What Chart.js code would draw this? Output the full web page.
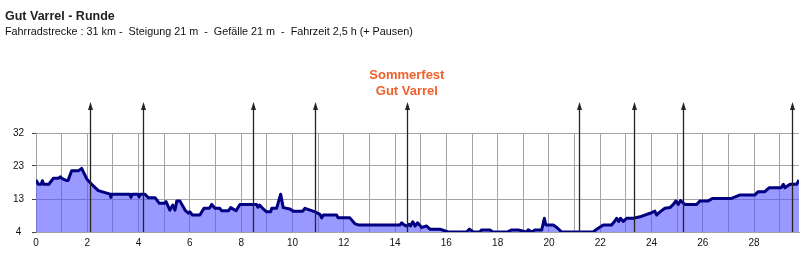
<!DOCTYPE html>
<html>
<head>
<meta charset="utf-8">
<script src="https://cdn.jsdelivr.net/npm/chart.js@4"></script>
<style>
  html, body { margin: 0; padding: 0; background: #fff; }
  #profil { display: block; }
</style>
</head>
<body>
<canvas id="profil" width="809" height="262"></canvas>
<script>
// Streckenprofil: Kilometer und Höhe (m)
const km = [0, 0.09, 0.2, 0.25, 0.3, 0.5, 0.68, 0.87, 0.96, 1.0, 1.17, 1.25, 1.39, 1.65, 1.78, 1.98, 2.17, 2.43, 2.89, 2.92, 2.95, 3.66, 3.7, 3.75, 3.98, 4.02, 4.07, 4.25, 4.38, 4.64, 4.81, 5.0, 5.07, 5.22, 5.33, 5.42, 5.49, 5.61, 5.81, 5.94, 6.0, 6.1, 6.39, 6.55, 6.76, 6.85, 6.98, 7.17, 7.24, 7.5, 7.59, 7.8, 7.95, 8.6, 8.65, 8.72, 8.85, 8.99, 9.15, 9.19, 9.38, 9.54, 9.64, 9.9, 10.03, 10.4, 10.49, 10.88, 11.07, 11.14, 11.2, 11.72, 11.78, 12.24, 12.44, 12.57, 14.19, 14.26, 14.35, 14.45, 14.55, 14.6, 14.69, 14.78, 14.88, 15.04, 15.23, 15.36, 15.75, 16.07, 16.79, 16.9, 17.05, 17.31, 17.37, 17.7, 17.8, 18.37, 18.55, 18.8, 19.13, 19.19, 19.33, 19.45, 19.72, 19.82, 19.88, 20.17, 20.32, 20.5, 21.73, 21.86, 22.12, 22.44, 22.57, 22.64, 22.72, 22.79, 22.9, 23.03, 23.29, 23.55, 23.94, 24.13, 24.2, 24.33, 24.52, 24.72, 24.85, 24.95, 25.04, 25.13, 25.3, 25.76, 25.89, 26.21, 26.37, 27.12, 27.45, 28.03, 28.16, 28.42, 28.58, 29.05, 29.14, 29.2, 29.4, 29.66, 29.75];
const hoehe = [18.7, 17.5, 17.5, 18.5, 17.5, 17.5, 19.2, 19.2, 19.6, 19.2, 18.6, 18.6, 21.3, 21.3, 22.0, 19.0, 17.5, 15.7, 14.7, 13.8, 14.7, 14.7, 13.8, 14.7, 14.7, 13.9, 14.7, 14.7, 13.7, 13.7, 12.1, 12.1, 12.6, 10.2, 11.6, 10.2, 12.8, 12.8, 10.2, 9.3, 9.7, 8.8, 8.8, 10.7, 10.7, 11.8, 10.7, 10.7, 10.0, 10.0, 10.9, 10.0, 11.8, 11.8, 11.0, 11.6, 10.6, 9.7, 9.7, 10.7, 10.7, 14.7, 10.9, 10.5, 9.9, 9.9, 10.7, 9.7, 9.0, 8.0, 8.8, 8.8, 8.0, 8.0, 6.3, 6.0, 6.0, 6.6, 6.0, 5.7, 6.2, 5.7, 6.9, 5.7, 6.6, 5.3, 5.7, 4.8, 4.8, 4.0, 4.0, 4.8, 4.0, 4.0, 4.6, 4.6, 4.0, 4.0, 4.6, 4.6, 4.0, 4.6, 4.0, 4.6, 4.6, 7.9, 6.0, 6.0, 5.2, 4.0, 4.0, 4.8, 6.0, 6.0, 7.1, 7.9, 7.0, 7.9, 7.0, 7.9, 7.9, 8.3, 9.3, 9.9, 8.8, 9.7, 10.7, 10.9, 11.8, 12.8, 11.8, 12.9, 11.8, 11.8, 12.8, 12.8, 13.5, 13.5, 14.5, 14.5, 15.4, 15.4, 16.5, 16.5, 17.5, 16.5, 17.5, 17.5, 18.7];

// Achsen
const yTicks = [4, 13.33, 22.67, 32];
const yTickLabels = ['4', '13', '23', '32'];
const kmMax = 29.75;

// Markierungen (Pfeile) und Beschriftung
const pfeilKm = [2.1, 4.18, 8.47, 10.89, 14.46, 21.18, 23.33, 25.24, 29.49];
const pfeilHoehe = 40.8;
const festKm = 14.46;
const festText = ['Sommerfest', 'Gut Varrel'];

const titel = 'Gut Varrel - Runde';
const untertitel = 'Fahrradstrecke : 31 km -  Steigung 21 m  -  Gefälle 21 m  -  Fahrzeit 2,5 h (+ Pausen)';

const markerPlugin = {
    id: 'marker',
    afterDatasetsDraw(chart) {
        const ctx = chart.ctx;
        const xs = chart.scales.x, ys = chart.scales.y;
        const yBottom = ys.getPixelForValue(4);
        const yTop = ys.getPixelForValue(pfeilHoehe);
        ctx.save();
        ctx.strokeStyle = '#2b2222';
        ctx.fillStyle = '#2b2222';
        ctx.lineWidth = 1.3;
        pfeilKm.forEach(k => {
            const x = Math.round(xs.getPixelForValue(k)) + 0.5;
            ctx.beginPath();
            ctx.moveTo(x, yBottom);
            ctx.lineTo(x, yTop + 4);
            ctx.stroke();
            ctx.beginPath();
            ctx.moveTo(x, yTop);
            ctx.lineTo(x - 2.5, yTop + 8);
            ctx.lineTo(x + 2.5, yTop + 8);
            ctx.closePath();
            ctx.fill();
        });

        // Festbeschriftung
        const fx = xs.getPixelForValue(festKm);
        ctx.fillStyle = '#f0602a';
        ctx.font = 'bold 13px "Liberation Sans", Arial, sans-serif';
        ctx.textAlign = 'center';
        ctx.textBaseline = 'alphabetic';
        ctx.fillText(festText[0], fx, 79);
        ctx.fillText(festText[1], fx, 95);

        // Titel
        ctx.textAlign = 'left';
        ctx.fillStyle = '#222';
        ctx.font = 'bold 12.5px "Liberation Sans", Arial, sans-serif';
        ctx.fillText(titel, 5, 20);
        ctx.fillStyle = '#111';
        ctx.font = '10.8px "Liberation Sans", Arial, sans-serif';
        ctx.fillText(untertitel, 5, 35);
        ctx.restore();
    }
};

new Chart(document.getElementById('profil').getContext('2d'), {
    type: 'line',
    data: {
        datasets: [{
            data: km.map((k, i) => ({ x: k, y: hoehe[i] })),
            borderColor: '#000080',
            borderWidth: 3,
            borderJoinStyle: 'round',
            backgroundColor: 'rgba(80,80,255,0.58)',
            fill: 'start',
            pointRadius: 0,
            tension: 0
        }]
    },
    options: {
        responsive: false,
        animation: false,
        layout: { padding: { top: 133, right: 10, left: 0, bottom: 0 } },
        plugins: { legend: { display: false }, tooltip: { enabled: false } },
        scales: {
            x: {
                type: 'linear',
                min: 0,
                max: kmMax,
                afterFit: s => { s.height = 30; },
                grid: { color: '#a4a4a4', drawTicks: false },
                border: { color: '#a4a4a4' },
                ticks: {
                    stepSize: 1,
                    autoSkip: false,
                    maxRotation: 0,
                    includeBounds: false,
                    padding: 5,
                    color: '#111',
                    font: { family: '"Liberation Sans", Arial, sans-serif', size: 10 },
                    callback: v => (v % 2 === 0 ? String(v) : '')
                }
            },
            y: {
                min: 4,
                max: 32,
                afterFit: s => { s.width = 36; },
                afterBuildTicks: s => { s.ticks = yTicks.map(v => ({ value: v })); },
                grid: { color: '#a4a4a4', tickColor: '#444', tickLength: 4 },
                border: { color: '#a4a4a4' },
                ticks: {
                    crossAlign: 'center',
                    padding: 8,
                    color: '#111',
                    font: { family: '"Liberation Sans", Arial, sans-serif', size: 10 },
                    callback: (v, i) => yTickLabels[i]
                }
            }
        }
    },
    plugins: [markerPlugin]
});
</script>
</body>
</html>
